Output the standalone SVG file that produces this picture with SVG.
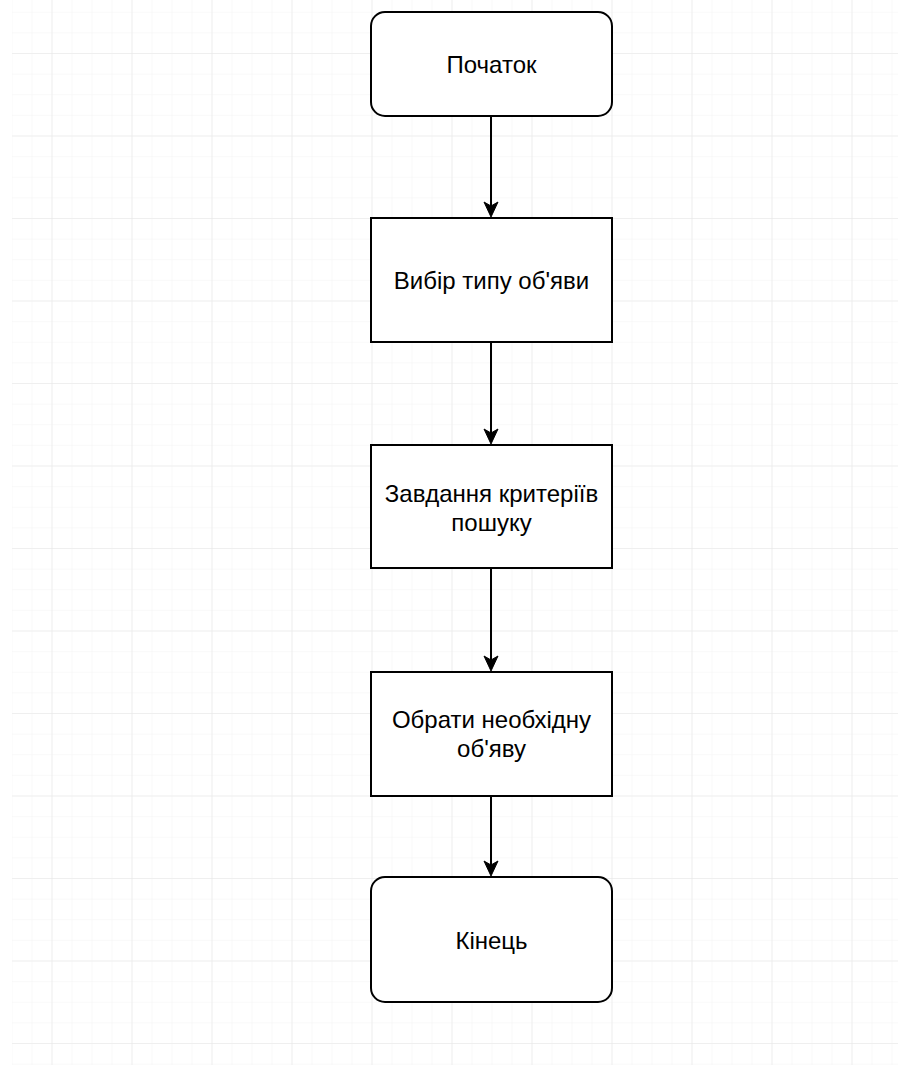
<svg xmlns="http://www.w3.org/2000/svg" width="898" height="1065" viewBox="0 0 898 1065">
<style>
.node{fill:#fff;stroke:#000;stroke-width:2}
.lbl{font-family:"Liberation Sans",Arial,sans-serif;font-size:24px;fill:#000;text-anchor:middle}
.edge{stroke:#000;stroke-width:2;fill:none;marker-end:url(#arr)}
</style>
<defs>
<pattern id="minor" patternUnits="userSpaceOnUse" x="11.5" y="11.75" width="20" height="20.625">
<path d="M0 0V20.625M0 0H20" stroke="#f3f3f3" stroke-width="1" fill="none"/>
</pattern>
<pattern id="major" patternUnits="userSpaceOnUse" x="51.5" y="53" width="80" height="82.5">
<path d="M0 0V82.5M0 0H80" stroke="#e6e6e6" stroke-width="1" fill="none"/>
</pattern>
<marker id="arr" markerUnits="userSpaceOnUse" viewBox="-1 -8 18 16" markerWidth="18" markerHeight="16" refX="4" refY="0" orient="auto">
<path d="M0 -7L15 0L0 7L4 0Z" fill="#000" stroke="#000" stroke-width="1"/>
</marker>
</defs>
<rect width="898" height="1065" fill="#fff"/>
<g id="grid">
<rect x="12" y="0" width="886" height="1065" fill="url(#minor)"/>
<rect x="12" y="0" width="886" height="1065" fill="url(#major)"/>
</g>
<g id="connectors">
<line class="edge" x1="491" y1="116" x2="491" y2="206"/>
<line class="edge" x1="491" y1="342" x2="491" y2="433"/>
<line class="edge" x1="491" y1="568" x2="491" y2="660"/>
<line class="edge" x1="491" y1="796" x2="491" y2="865"/>
</g>
<g id="start">
<rect class="node" x="371" y="12" width="241" height="104" rx="14"/>
<text class="lbl" x="491.5" y="73">Початок</text>
</g>
<g id="choose-type">
<rect class="node" x="371" y="218" width="241" height="124"/>
<text class="lbl" x="491.5" y="289">Вибір типу об'яви</text>
</g>
<g id="criteria">
<rect class="node" x="371" y="445" width="241" height="123"/>
<text class="lbl" x="491.5" y="502">Завдання критеріїв</text>
<text class="lbl" x="491.5" y="531">пошуку</text>
</g>
<g id="select">
<rect class="node" x="371" y="672" width="241" height="124"/>
<text class="lbl" x="491.5" y="728">Обрати необхідну</text>
<text class="lbl" x="491.5" y="757">об'яву</text>
</g>
<g id="end">
<rect class="node" x="371" y="877" width="241" height="125" rx="14"/>
<text class="lbl" x="491.5" y="949">Кінець</text>
</g>
</svg>
